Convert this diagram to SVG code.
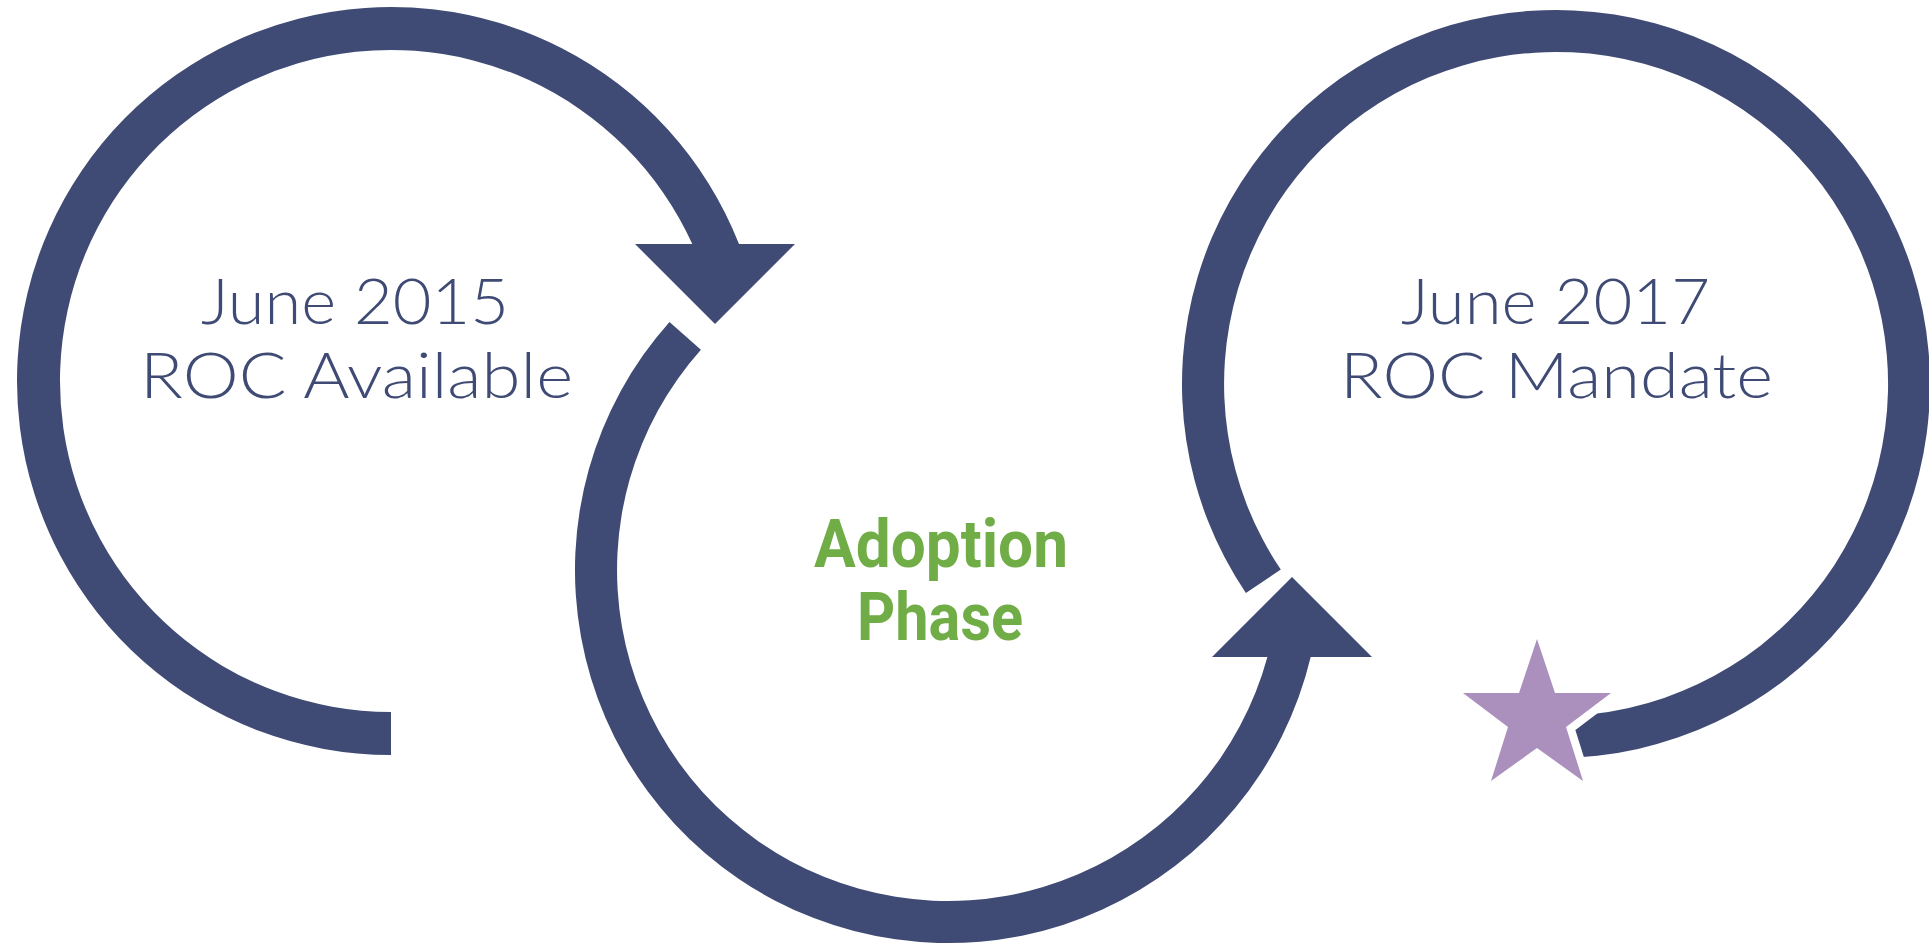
<svg xmlns="http://www.w3.org/2000/svg" width="1929" height="944" viewBox="0 0 1929 944">
  <style>
    .ring { fill: #3F4B74; }
    .label { font-family: "Lato", "Open Sans", "Liberation Sans", sans-serif; font-weight: 300; font-size: 64px; fill: #3F4B74; text-anchor: middle; }
    .phase { font-family: "Roboto", "Liberation Sans", sans-serif; font-weight: 700; font-size: 67px; fill: #70AD47; text-anchor: middle; }
    .star { fill: #AB8FBD; stroke: #FFFFFF; stroke-width: 16; stroke-linejoin: miter; paint-order: stroke; }
  </style>
  <rect width="1929" height="944" fill="#FFFFFF"/>
  <g id="connectors">
    <path class="ring" d="M 391 755 A 374 374 0 1 1 739 244 L 692.3 244 A 331 331 0 1 0 391 712 Z"/>
    <polygon class="ring" points="635,244 795,244 715,324"/>
    <path class="ring" d="M 669.5 321.9 A 373 373 0 1 0 1310.7 657 L 1267.4 657 A 331 331 0 1 1 700.9 349.8 Z"/>
    <polygon class="ring" points="1212,657 1372,657 1292,577"/>
    <path class="ring" d="M 1245.9 593.1 A 374 374 0 1 1 1556 758 L 1556 716 A 332 332 0 1 0 1280.8 569.6 Z"/>
  </g>
  <g id="node-available">
    <text class="label" x="355" y="324" textLength="308" lengthAdjust="spacingAndGlyphs">June 2015</text>
    <text class="label" x="356.5" y="398" textLength="433" lengthAdjust="spacingAndGlyphs">ROC Available</text>
  </g>
  <g id="node-adoption">
    <text class="phase" x="941" y="567" textLength="254" lengthAdjust="spacingAndGlyphs">Adoption</text>
    <text class="phase" x="940" y="640" textLength="166" lengthAdjust="spacingAndGlyphs">Phase</text>
  </g>
  <g id="node-mandate">
    <text class="label" x="1555.5" y="324" textLength="309" lengthAdjust="spacingAndGlyphs">June 2017</text>
    <text class="label" x="1556.5" y="398" textLength="433" lengthAdjust="spacingAndGlyphs">ROC Mandate</text>
  </g>
  <g id="node-star">
    <polygon class="star" points="1537,639 1555,693 1611,693 1566,727 1583,781 1537,748 1491,781 1508,727 1463,693 1519,693"/>
  </g>
</svg>
